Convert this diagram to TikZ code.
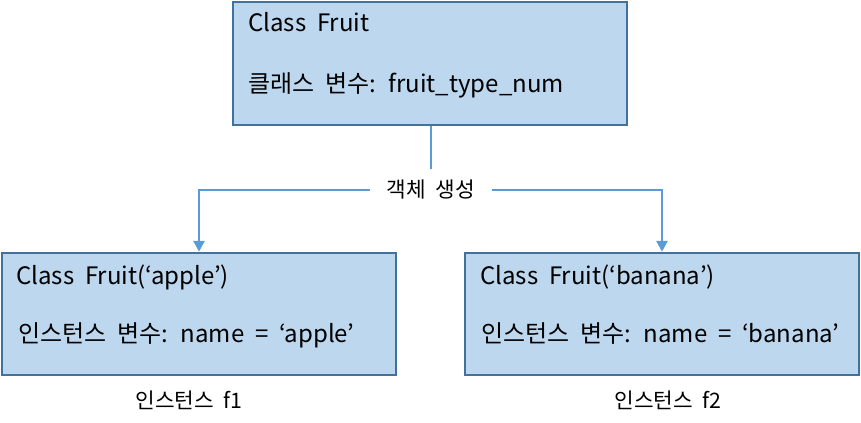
\documentclass[tikz,border=0pt]{standalone}
\usepackage{fontspec}
\setmainfont[WordSpace=2]{Noto Sans CJK KR}
\usetikzlibrary{arrows.meta}
\definecolor{boxfill}{HTML}{BDD7EE}
\definecolor{boxline}{HTML}{41719C}
\definecolor{conn}{HTML}{5B9BD5}
\begin{document}
\begin{tikzpicture}[x=0.75pt,y=-0.75pt,
  classbox/.style={draw=boxline,fill=boxfill,line width=1.6pt,minimum width=295pt,minimum height=92pt,inner sep=0pt},
  txt/.style={anchor=base west,inner sep=0pt,font=\fontsize{18}{21}\selectfont},
  captxt/.style={inner sep=0pt,font=\fontsize{16}{19}\selectfont},
  connline/.style={draw=conn,line width=0.9pt},
  arr/.style={connline,-{Triangle[length=8pt,width=8.5pt]}}]
\useasboundingbox (0,0) rectangle (861,423);
\node[classbox] (top) at (430,63.5) {};
\node[classbox] (left) at (199,314) {};
\node[classbox] (right) at (662,314) {};
\node[txt] (t1) at (248,32) {Class Fruit};
\node[txt] (t2) at (248,93) {클래스 변수: fruit\_type\_num};
\node[txt] (l1) at (16,285) {Class Fruit(‘apple’)};
\node[txt] (l2) at (18,343) {인스턴스 변수: name = ‘apple’};
\node[txt] (r1) at (480,285) {Class Fruit(‘banana’)};
\node[txt] (r2) at (481,343) {인스턴스 변수: name = ‘banana’};
\node[captxt] (f1) at (189,400) {인스턴스 f1};
\node[captxt] (f2) at (668,400) {인스턴스 f2};
\node[captxt,minimum width=91.5pt,minimum height=31.5pt] (lbl) at (431,190) {객체 생성};
\draw[connline] (top.south -| lbl.north) -- (lbl.north);
\draw[arr] (lbl.west) -| (left.north);
\draw[arr] (lbl.east) -| (right.north);
\end{tikzpicture}
\end{document}
